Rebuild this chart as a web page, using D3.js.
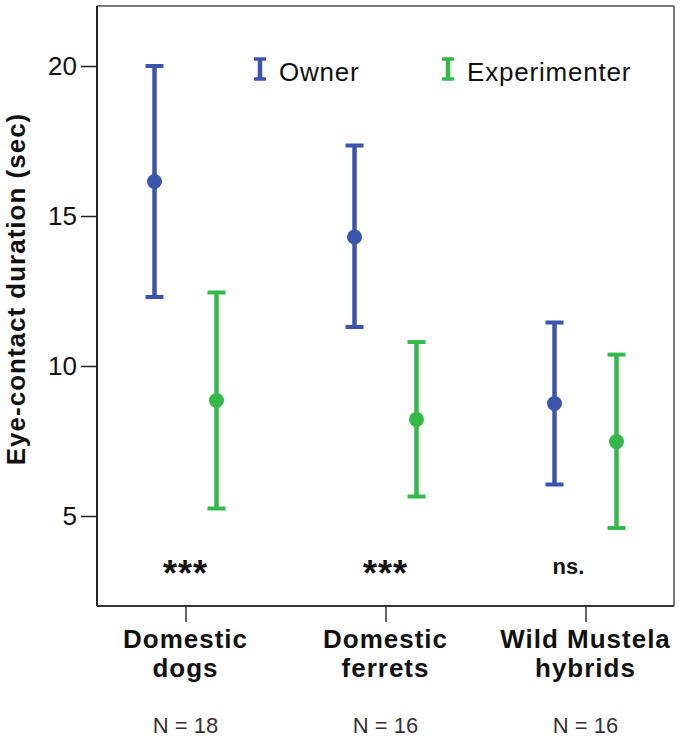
<!DOCTYPE html>
<html><head><meta charset="utf-8">
<script src="https://cdn.jsdelivr.net/npm/d3@7"></script>
<style>
body{margin:0;background:#fff;}
text{font-family:"Liberation Sans",Arial,Helvetica,sans-serif;}
</style></head>
<body>
<svg id="chart" width="682" height="741"></svg>
<script>
const categories = ["Domestic dogs","Domestic ferrets","Wild Mustela hybrids"];
const categoryLines = [["Domestic","dogs"],["Domestic","ferrets"],["Wild Mustela","hybrids"]];
const sampleSizes = ["N = 18","N = 16","N = 16"];
const significance = ["***","***","ns."];
const series = ["Owner","Experimenter"];
const ownerMean = [16.15, 14.3, 8.75];
const ownerLow  = [12.3, 11.3, 6.05];
const ownerHigh = [20.0, 17.35, 11.45];
const expMean = [8.85, 8.22, 7.48];
const expLow  = [5.25, 5.65, 4.6];
const expHigh = [12.45, 10.8, 10.38];
const yTicks = [5, 10, 15, 20];

const colors = {Owner:"#3b55ad", Experimenter:"#34b84a"};
const svg = d3.select("#chart");
const L=97, R=674, T=6, B=606;

const x = d3.scalePoint().domain(categories).range([L,R]).padding(0.4425);
const xs = d3.scalePoint().domain(series).range([-31,31]);
const y = d3.scaleLinear().domain([2,22]).range([B,T]);

// frame
svg.append("line").attr("x1",L).attr("x2",R).attr("y1",T).attr("y2",T).attr("stroke","#7a7a7a").attr("stroke-width",2);
svg.append("line").attr("x1",R).attr("x2",R).attr("y1",T).attr("y2",B).attr("stroke","#7a7a7a").attr("stroke-width",2);

// y axis
const yAxis = d3.axisLeft(y).tickValues(yTicks).tickSize(16).tickPadding(4);
const gy = svg.append("g").attr("transform",`translate(${L},0)`).call(yAxis);
gy.select(".domain").attr("stroke","#222").attr("stroke-width",2).attr("d",`M0,${T}V${B}`);
gy.selectAll(".tick line").attr("stroke","#222").attr("stroke-width",1.5);
gy.selectAll(".tick text").attr("font-size",26).attr("fill","#111").style("font-family","'Liberation Sans',Arial,sans-serif");

// x axis
const xAxis = d3.axisBottom(x).tickSize(16).tickFormat("");
const gx = svg.append("g").attr("transform",`translate(0,${B})`).call(xAxis);
gx.select(".domain").attr("stroke","#333").attr("stroke-width",2).attr("d",`M${L},0H${R}`);
gx.selectAll(".tick line").attr("stroke","#333").attr("stroke-width",1.5);

// category labels
categories.forEach((c,i)=>{
  const t = svg.append("text").attr("x",x(c)).attr("y",648).attr("text-anchor","middle")
    .attr("font-size",26).attr("font-weight","bold").attr("letter-spacing",1).attr("fill","#111");
  categoryLines[i].forEach((ln,j)=>{
    t.append("tspan").attr("x",x(c)).attr("dy", j===0?0:29).text(ln);
  });
  svg.append("text").attr("x",x(c)).attr("y",733).attr("text-anchor","middle")
    .attr("font-size",22).attr("fill","#333").text(sampleSizes[i]);
  const s = significance[i];
  if (s === "***") {
    svg.append("text").attr("x",x(c)).attr("y",586).attr("text-anchor","middle")
      .attr("font-size",36).attr("font-weight","bold").attr("letter-spacing",1).attr("fill","#111").text(s);
  } else {
    svg.append("text").attr("x",x(c)-17).attr("y",574).attr("text-anchor","middle")
      .attr("font-size",22).attr("font-weight","bold").attr("fill","#111").text(s);
  }
});

// error bars
const data = [];
categories.forEach((c,i)=>{
  data.push({cat:c, s:"Owner", m:ownerMean[i], lo:ownerLow[i], hi:ownerHigh[i]});
  data.push({cat:c, s:"Experimenter", m:expMean[i], lo:expLow[i], hi:expHigh[i]});
});
const g = svg.append("g").selectAll("g").data(data).join("g")
  .attr("transform",d=>`translate(${x(d.cat)+xs(d.s)},0)`);
g.append("line").attr("x1",0).attr("x2",0).attr("y1",d=>y(d.lo)).attr("y2",d=>y(d.hi))
  .attr("stroke",d=>colors[d.s]).attr("stroke-width",4.5);
g.append("line").attr("x1",-9).attr("x2",9).attr("y1",d=>y(d.hi)).attr("y2",d=>y(d.hi))
  .attr("stroke",d=>colors[d.s]).attr("stroke-width",4);
g.append("line").attr("x1",-9).attr("x2",9).attr("y1",d=>y(d.lo)).attr("y2",d=>y(d.lo))
  .attr("stroke",d=>colors[d.s]).attr("stroke-width",4);
g.append("circle").attr("cx",0).attr("cy",d=>y(d.m)).attr("r",7.5).attr("fill",d=>colors[d.s]);

// legend
const legendX = [260, 448];
series.forEach((s,i)=>{
  const lg = svg.append("g").attr("transform",`translate(${legendX[i]},69)`);
  lg.append("line").attr("x1",0).attr("x2",0).attr("y1",-10).attr("y2",10).attr("stroke",colors[s]).attr("stroke-width",4.5);
  lg.append("line").attr("x1",-6).attr("x2",6).attr("y1",-10).attr("y2",-10).attr("stroke",colors[s]).attr("stroke-width",3.5);
  lg.append("line").attr("x1",-6).attr("x2",6).attr("y1",10).attr("y2",10).attr("stroke",colors[s]).attr("stroke-width",3.5);
  lg.append("text").attr("x",19).attr("y",12).attr("font-size",26).attr("letter-spacing",0.8).attr("fill","#111").text(s);
});

// y label
svg.append("text").attr("transform","translate(25,289) rotate(-90)").attr("text-anchor","middle")
  .attr("font-size",26).attr("font-weight","bold").attr("letter-spacing",1).attr("fill","#111")
  .text("Eye-contact duration (sec)");
</script>
</body></html>
